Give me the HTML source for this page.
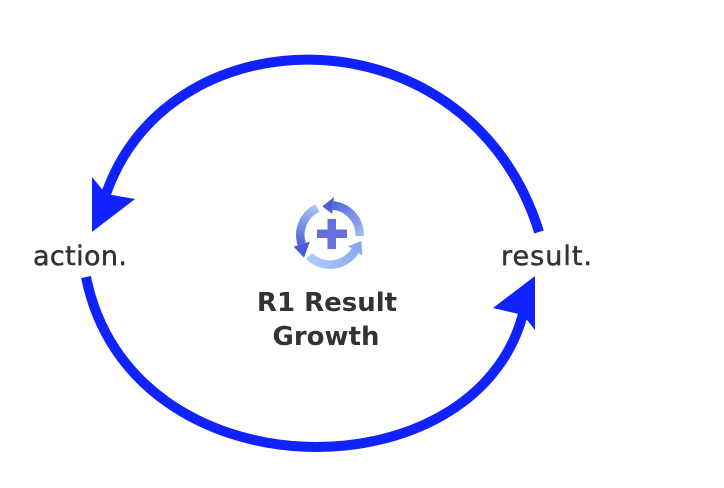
<!DOCTYPE html>
<html><head><meta charset="utf-8"><style>
html,body{margin:0;padding:0;background:#fff;}
svg{display:block;}
</style></head><body>
<svg width="724" height="488" viewBox="0 0 724 488" xmlns="http://www.w3.org/2000/svg">
<defs>
<linearGradient id="g1" gradientUnits="userSpaceOnUse" x1="330" y1="205" x2="360" y2="240">
<stop offset="0" stop-color="#4f5fd9"/><stop offset="1" stop-color="#a3c3f6"/></linearGradient>
<linearGradient id="g2" gradientUnits="userSpaceOnUse" x1="318" y1="208" x2="303" y2="248">
<stop offset="0" stop-color="#aac7f7"/><stop offset="1" stop-color="#4a5bd6"/></linearGradient>
<linearGradient id="g3" gradientUnits="userSpaceOnUse" x1="308" y1="255" x2="358" y2="245">
<stop offset="0" stop-color="#b0cdf8"/><stop offset="1" stop-color="#86aaf0"/></linearGradient>
</defs>

<!-- top arc -->
<path d="M539,232 C470,9 170,9 106,194" fill="none" stroke="#0f22ff" stroke-width="10"/>
<polygon points="92,232 92,177 106,194 135,199" fill="#0f22ff"/>

<!-- bottom arc -->
<path d="M86,277 C130,497 475,497 523,314" fill="none" stroke="#0f22ff" stroke-width="10"/>
<polygon points="535,276 493,308 523,315 535,330" fill="#0f22ff"/>

<!-- icon -->
<g transform="translate(330 235) scale(1.06) translate(-330 -235)">
<path d="M357.98,235.98 A28,28 0 0 0 332.93,207.15" fill="none" stroke="url(#g1)" stroke-width="8"/>
<polygon points="332.1,215.1 333.76,199.2 322.75,207.95" fill="#4f5fd9"/>
<path d="M318.17,209.62 A28,28 0 0 0 303.37,243.65" fill="none" stroke="url(#g2)" stroke-width="8"/>
<polygon points="310.98,241.18 295.76,246.12 305.5,256.5" fill="#4a5bd6"/>
<path d="M310.2,254.8 A28,28 0 0 0 353.74,249.84" fill="none" stroke="url(#g3)" stroke-width="8"/>
<polygon points="346.96,245.6 360.53,254.08 359.5,240.5" fill="#86aaf0"/>
</g>
<rect x="317" y="229.5" width="30" height="8.5" fill="#6670dd"/>
<rect x="327.5" y="219" width="8.5" height="30" fill="#6670dd"/>

<!-- labels -->
<text x="33" y="265" font-family="DejaVu Sans, Liberation Sans, sans-serif" font-size="27" fill="#333" stroke="#333" stroke-width="0.5" textLength="94">action.</text>
<text x="501" y="265" font-family="DejaVu Sans, Liberation Sans, sans-serif" font-size="27" fill="#333" stroke="#333" stroke-width="0.5" textLength="91">result.</text>
<text x="327" y="311" text-anchor="middle" font-family="DejaVu Sans, Liberation Sans, sans-serif" font-size="26" font-weight="bold" fill="#333">R1 Result</text>
<text x="326" y="345" text-anchor="middle" font-family="DejaVu Sans, Liberation Sans, sans-serif" font-size="26" font-weight="bold" fill="#333">Growth</text>
</svg>
</body></html>
